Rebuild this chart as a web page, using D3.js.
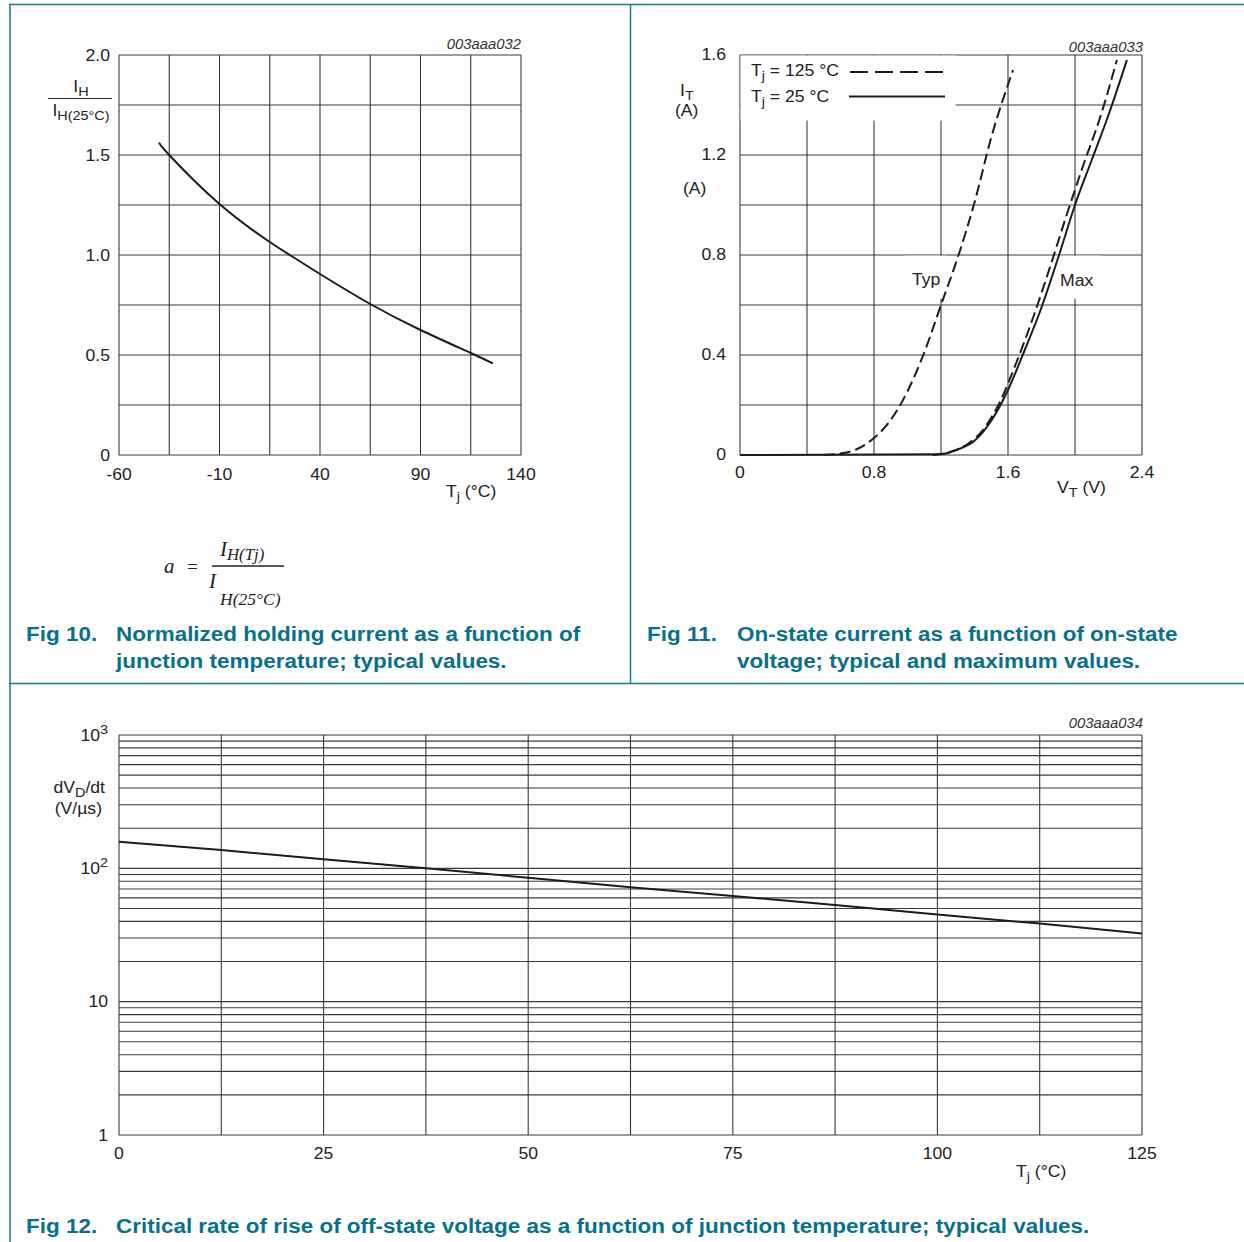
<!DOCTYPE html>
<html>
<head>
<meta charset="utf-8">
<script src="https://cdn.jsdelivr.net/npm/d3@7"></script>
<style>
  html, body { margin: 0; padding: 0; background: #fff; }
</style>
</head>
<body>
<div id="chart"></div>
<script>
// Fig 10: normalized holding current vs junction temperature
const holdTemp = [-40, -35, -10, 15, 25, 40, 65, 90, 115, 126];
const holdRatio = [1.563, 1.50, 1.255, 1.065, 1.0, 0.905, 0.755, 0.625, 0.51, 0.458];
const holdGridX = [-60, -35, -10, 15, 40, 65, 90, 115, 140];
const holdTicksX = [-60, -10, 40, 90, 140];
const holdGridY = [0, 0.25, 0.5, 0.75, 1.0, 1.25, 1.5, 1.75, 2.0];
const holdTicksY = ["0", "0.5", "1.0", "1.5", "2.0"];

// Fig 11: on-state current vs on-state voltage
const typV = [0.5, 0.6, 0.7, 0.8, 0.9, 1.0, 1.1, 1.2, 1.3, 1.4, 1.5, 1.63];
const typI = [0, 0.006, 0.024, 0.068, 0.14, 0.255, 0.41, 0.60, 0.79, 1.01, 1.27, 1.54];
const max25V = [0, 1.2, 1.3, 1.4, 1.5, 1.6, 1.7, 1.8, 1.9, 2.0, 2.1, 2.2, 2.31];
const max25I = [0, 0.003, 0.022, 0.057, 0.137, 0.26, 0.42, 0.59, 0.79, 1.0, 1.18, 1.36, 1.58];
const max125V = [1.15, 1.25, 1.35, 1.45, 1.55, 1.65, 1.75, 1.85, 1.95, 2.05, 2.15, 2.25];
const max125I = [0, 0.012, 0.04, 0.10, 0.21, 0.37, 0.55, 0.75, 0.96, 1.16, 1.35, 1.58];
const onGridX = [0, 0.4, 0.8, 1.2, 1.6, 2.0, 2.4];
const onTicksX = ["0", "0.8", "1.6", "2.4"];
const onGridY = [0, 0.2, 0.4, 0.6, 0.8, 1.0, 1.2, 1.4, 1.6];
const onTicksY = ["0", "0.4", "0.8", "1.2", "1.6"];

// Fig 12: critical rate of rise of off-state voltage vs junction temperature
const dvTemp = [0, 12.5, 25, 37.5, 50, 62.5, 75, 87.5, 100, 112.5, 125];
const dvRate = [158, 137, 117, 100, 85, 72, 62, 53, 45, 38.5, 32.5];
const dvGridX = [0, 12.5, 25, 37.5, 50, 62.5, 75, 87.5, 100, 112.5, 125];
const dvTicksX = [0, 25, 50, 75, 100, 125];
const dvTicksY = [1, 10, 100, 1000];

const W = 1244, H = 1242;
const SANS = "'Liberation Sans', Arial, Helvetica, sans-serif";
const SERIF = "'Liberation Serif', 'Times New Roman', serif";
const TEAL = "#0a6f8b";
const GRID = "#3a3a3a";
const INK = "#1c1c1c";

const svg = d3.select("#chart").append("svg")
  .attr("width", W).attr("height", H)
  .style("background", "#fff");

// text with optional sub/superscript parts; glyphs are a little wide in the original
function addText(sel, x, y, parts, opt) {
  opt = opt || {};
  const size = opt.size || 16;
  const sx = opt.sx || 1.1;
  const t = sel.append("text")
    .attr("transform", "translate(" + x + "," + y + ") scale(" + sx + ",1)")
    .attr("font-family", opt.family || SANS)
    .attr("font-size", size)
    .attr("text-anchor", opt.anchor || "start")
    .attr("fill", opt.fill || "#222");
  if (opt.italic) t.attr("font-style", "italic");
  if (opt.bold) t.attr("font-weight", "bold");
  let shift = 0;
  (typeof parts === "string" ? [[parts]] : parts).forEach(function(p) {
    const k = p[1];
    const target = k === "sub" ? size * (opt.subShift || 0.25) : k === "sup" ? -size * 0.4 : 0;
    const ts = t.append("tspan").attr("dy", target - shift).text(p[0]);
    if (k) ts.attr("font-size", size * (opt.subScale || 0.82));
    shift = target;
  });
  return t;
}

function grid(g, x, y, xs, ys) {
  const [x0, x1] = x.range();
  const [y0, y1] = y.range();
  g.selectAll(null).data(xs).enter().append("line")
    .attr("x1", d => x(d)).attr("x2", d => x(d))
    .attr("y1", y0).attr("y2", y1)
    .attr("stroke", GRID).attr("stroke-width", 1.1);
  g.selectAll(null).data(ys).enter().append("line")
    .attr("x1", x0).attr("x2", x1)
    .attr("y1", d => y(d)).attr("y2", d => y(d))
    .attr("stroke", GRID).attr("stroke-width", 1.1);
}

const caption = { bold: true, size: 21, fill: TEAL, sx: 1.07 };
const code = { anchor: "end", italic: true, size: 14, fill: "#333", sx: 1.06 };

// panel borders
const borders = [
  [9, 4.5, W, 4.5],
  [10, 4, 10, H],
  [630.5, 4, 630.5, 684],
  [9, 683.5, W, 683.5]
];
svg.selectAll(null).data(borders).enter().append("line")
  .attr("x1", d => d[0]).attr("y1", d => d[1])
  .attr("x2", d => d[2]).attr("y2", d => d[3])
  .attr("stroke", "#1b7893").attr("stroke-width", 1.5);

// ---------- Fig 10 ----------
{
  const g = svg.append("g");
  const x = d3.scaleLinear().domain([-60, 140]).range([119, 521]);
  const y = d3.scaleLinear().domain([0, 2]).range([455, 55]);
  grid(g, x, y, holdGridX, holdGridY);

  const line = d3.line().x((d, i) => x(holdTemp[i])).y(d => y(d)).curve(d3.curveNatural);
  g.append("path").attr("d", line(holdRatio))
    .attr("fill", "none").attr("stroke", INK).attr("stroke-width", 2);

  holdTicksX.forEach(v => addText(g, x(v), 480, String(v), { anchor: "middle" }));
  holdTicksY.forEach(v => addText(g, 110, y(+v) + 5.5, v, { anchor: "end" }));

  addText(g, 81, 92, [["I"], ["H", "sub"]], { anchor: "middle" });
  g.append("line").attr("x1", 48).attr("x2", 112).attr("y1", 98.5).attr("y2", 98.5)
    .attr("stroke", "#333").attr("stroke-width", 1.2);
  addText(g, 81, 116, [["I"], ["H(25°C)", "sub"]], { anchor: "middle" });

  addText(g, 446, 497, [["T"], ["j", "sub"], [" (°C)"]]);
  addText(g, 521, 49, "003aaa032", code);

  // a = I_H(Tj) / I_H(25°C)
  addText(g, 164, 573, "a", { family: SERIF, italic: true, size: 21, sx: 1 });
  addText(g, 187, 573, "=", { family: SERIF, size: 19, sx: 1 });
  addText(g, 220, 556, [["I"], ["H(Tj)", "sub"]], { family: SERIF, italic: true, size: 21, sx: 1, subScale: 0.8, subShift: 0.2 });
  g.append("line").attr("x1", 212).attr("x2", 284).attr("y1", 566).attr("y2", 566)
    .attr("stroke", "#222").attr("stroke-width", 1.6);
  addText(g, 209, 588, "I", { family: SERIF, italic: true, size: 21, sx: 1 });
  addText(g, 220, 605, "H(25°C)", { family: SERIF, italic: true, size: 17.5, sx: 1 });

  addText(g, 26, 641, "Fig 10.", caption);
  addText(g, 116, 641, "Normalized holding current as a function of", caption);
  addText(g, 116, 668, "junction temperature; typical values.", caption);
}

// ---------- Fig 11 ----------
{
  const g = svg.append("g");
  const x = d3.scaleLinear().domain([0, 2.4]).range([740, 1142]);
  const y = d3.scaleLinear().domain([0, 1.6]).range([455, 55]);
  grid(g, x, y, onGridX, onGridY);

  // white patches behind legend and curve labels
  g.append("rect").attr("x", x(0) + 0.6).attr("y", y(1.6) + 0.6)
    .attr("width", 955 - x(0)).attr("height", 120 - y(1.6)).attr("fill", "#fff");
  g.append("rect").attr("x", 905).attr("y", y(0.8) + 0.7).attr("width", 41).attr("height", 43).attr("fill", "#fff");
  g.append("rect").attr("x", 1056).attr("y", y(0.8) + 0.7).attr("width", 44).attr("height", 43).attr("fill", "#fff");

  const line = (vs) => d3.line().x((d, i) => x(vs[i])).y(d => y(d)).curve(d3.curveMonotoneX);
  g.append("path").attr("d", line(max25V)(max25I))
    .attr("fill", "none").attr("stroke", INK).attr("stroke-width", 2);
  g.append("path").attr("d", line(max125V)(max125I))
    .attr("fill", "none").attr("stroke", INK).attr("stroke-width", 2)
    .attr("stroke-dasharray", "11,5");
  g.append("path").attr("d", line(typV)(typI))
    .attr("fill", "none").attr("stroke", INK).attr("stroke-width", 2)
    .attr("stroke-dasharray", "11,5");

  onTicksX.forEach(v => addText(g, x(+v), 478, v, { anchor: "middle" }));
  onTicksY.forEach(v => addText(g, 726, y(+v) + 5, v, { anchor: "end" }));

  addText(g, 680, 96, [["I"], ["T", "sub"]]);
  addText(g, 675, 116, "(A)");
  addText(g, 683, 194, "(A)");
  addText(g, 1057, 493, [["V"], ["T", "sub"], [" (V)"]]);
  addText(g, 1143, 52, "003aaa033", code);

  addText(g, 912, 285, "Typ");
  addText(g, 1060, 286, "Max");

  // legend
  addText(g, 751, 76, [["T"], ["j", "sub"], [" = 125 °C"]]);
  g.append("line").attr("x1", 850).attr("x2", 944).attr("y1", 72).attr("y2", 72)
    .attr("stroke", INK).attr("stroke-width", 2).attr("stroke-dasharray", "18,7");
  addText(g, 751, 102, [["T"], ["j", "sub"], [" = 25 °C"]]);
  g.append("line").attr("x1", 849).attr("x2", 945).attr("y1", 96.5).attr("y2", 96.5)
    .attr("stroke", INK).attr("stroke-width", 2);

  addText(g, 647, 641, "Fig 11.", caption);
  addText(g, 737, 641, "On-state current as a function of on-state", caption);
  addText(g, 737, 668, "voltage; typical and maximum values.", caption);
}

// ---------- Fig 12 ----------
{
  const g = svg.append("g");
  const x = d3.scaleLinear().domain([0, 125]).range([119, 1142]);
  const y = d3.scaleLog().domain([1, 1000]).range([1135, 735]);
  const ys = [];
  [1, 10, 100].forEach(dec => d3.range(1, 10).forEach(m => ys.push(dec * m)));
  ys.push(1000);
  grid(g, x, y, dvGridX, ys);

  const line = d3.line().x((d, i) => x(dvTemp[i])).y(d => y(d));
  g.append("path").attr("d", line(dvRate))
    .attr("fill", "none").attr("stroke", INK).attr("stroke-width", 2);

  dvTicksX.forEach(v => addText(g, x(v), 1159, String(v), { anchor: "middle" }));
  dvTicksY.forEach(v => {
    const k = Math.round(Math.log10(v));
    const parts = k >= 2 ? [["10"], [String(k), "sup"]] : [[String(v)]];
    addText(g, 108, y(v) + 5.5, parts, { anchor: "end" });
  });

  addText(g, 105, 793, [["dV"], ["D", "sub"], ["/dt"]], { anchor: "end" });
  addText(g, 102, 814, "(V/µs)", { anchor: "end" });
  addText(g, 1016, 1177, [["T"], ["j", "sub"], [" (°C)"]]);
  addText(g, 1143, 728, "003aaa034", code);

  addText(g, 26, 1233, "Fig 12.", caption);
  addText(g, 116, 1233, "Critical rate of rise of off-state voltage as a function of junction temperature; typical values.", caption);
}
</script>
</body>
</html>
